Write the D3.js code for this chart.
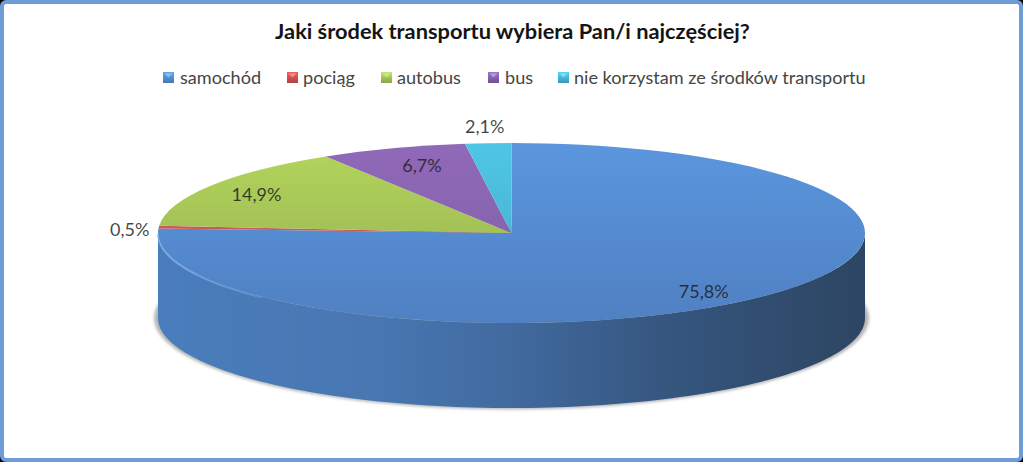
<!DOCTYPE html>
<html lang="pl">
<head>
<meta charset="utf-8">
<script src="https://cdn.jsdelivr.net/npm/d3@7"></script>
<style>
html,body{margin:0;padding:0;background:#000}
svg{display:block}
text{font-family:Lato,"Open Sans",sans-serif}
</style>
</head>
<body>
<script>
const titleText = "Jaki środek transportu wybiera Pan/i najczęściej?";
const categories = ["samochód", "pociąg", "autobus", "bus", "nie korzystam ze środków transportu"];
const values = [75.8, 0.5, 14.9, 6.7, 2.1];
const valueLabels = ["75,8%", "0,5%", "14,9%", "6,7%", "2,1%"];

const topLight = ["#5b96de", "#d9605c", "#b3d65c", "#9069b8", "#4fc6e6"];
const topDark  = ["#4f80c2", "#c0504d", "#93ad4f", "#7f5fa6", "#43a9c4"];
const legendMid = ["#4f8ed0", "#cf4f4f", "#a3c355", "#8261ad", "#45b5d3"];

const W = 1023, H = 462;
const cx = 511.5, cy = 233, rx = 353.5, ry = 90, depth = 85;

const svg = d3.select("body").append("svg").attr("width", W).attr("height", H);
const defs = svg.append("defs");

// Frame
svg.append("rect").attr("x", 2).attr("y", 2).attr("width", W - 4).attr("height", H - 4)
  .attr("rx", 4).attr("fill", "#fff").attr("stroke", "#6f9bd8").attr("stroke-width", 4);

// Gradients
categories.forEach((c, i) => {
  const g = defs.append("linearGradient").attr("id", "top" + i)
    .attr("gradientUnits", "userSpaceOnUse")
    .attr("x1", 0).attr("x2", 0).attr("y1", -rx).attr("y2", rx);
  g.append("stop").attr("offset", 0).attr("stop-color", topLight[i]);
  g.append("stop").attr("offset", 1).attr("stop-color", topDark[i]);
  const m = defs.append("linearGradient").attr("id", "leg" + i)
    .attr("x1", 0).attr("x2", 0).attr("y1", 0).attr("y2", 1);
  m.append("stop").attr("offset", 0).attr("stop-color", d3.color(legendMid[i]).brighter(0.5));
  m.append("stop").attr("offset", 1).attr("stop-color", d3.color(legendMid[i]).darker(0.5));
});
const wg = defs.append("linearGradient").attr("id", "wall")
  .attr("gradientUnits", "userSpaceOnUse")
  .attr("x1", cx - rx).attr("x2", cx + rx).attr("y1", 0).attr("y2", 0);
[[0, "#4a7dbc"], [0.3, "#4877b2"], [0.5, "#416a9f"], [0.72, "#36567f"], [1, "#2c4562"]]
  .forEach(([o, c]) => wg.append("stop").attr("offset", o).attr("stop-color", c));
const rg = defs.append("linearGradient").attr("id", "rim")
  .attr("gradientUnits", "userSpaceOnUse")
  .attr("x1", cx - rx).attr("x2", cx - 170).attr("y1", 0).attr("y2", 0);
rg.append("stop").attr("offset", 0).attr("stop-color", "#7eb0ee").attr("stop-opacity", 0.9);
rg.append("stop").attr("offset", 1).attr("stop-color", "#7eb0ee").attr("stop-opacity", 0);
defs.append("filter").attr("id", "blur").attr("x", "-5%").attr("y", "-5%").attr("width", "110%").attr("height", "110%")
  .append("feGaussianBlur").attr("stdDeviation", 1.6);

// Title
svg.append("text").attr("x", 512.5).attr("y", 38.5).attr("text-anchor", "middle")
  .attr("font-size", 21.8).attr("font-weight", 700).attr("fill", "#141414").text(titleText);

// Legend
const legendX = [163, 287, 381, 488, 558];
const legendTextGap = [17, 16, 16, 17, 16];
const legend = svg.append("g").selectAll("g").data(categories).join("g")
  .attr("transform", (d, i) => `translate(${legendX[i]},72)`);
legend.append("rect").attr("width", 11).attr("height", 11)
  .attr("fill", (d, i) => `url(#leg${i})`);
legend.append("path").attr("d", "M1.5,1.5H9.5L5.5,5.5Z").attr("fill", "#fff").attr("opacity", 0.35);
legend.append("text").attr("x", (d, i) => legendTextGap[i]).attr("y", 11.5)
  .attr("font-size", 18.1).attr("fill", "#454545").text(d => d);

// Pie
const pie = d3.pie().sort(null).value(d => d)
  .startAngle(0).endAngle(2 * Math.PI);
const arcs = pie(values);
const px = a => cx + rx * Math.sin(a);
const py = (a, dz = 0) => cy - ry * Math.cos(a) + dz;

// Shadow below the cylinder
svg.append("ellipse").attr("cx", cx).attr("cy", cy + depth)
  .attr("rx", rx + 4).attr("ry", ry + 1.5)
  .attr("fill", "#b5b5b5").attr("filter", "url(#blur)");

// Side wall (front half only)
const frontStart = Math.PI / 2, frontEnd = 3 * Math.PI / 2;
const wallArea = d3.area().x(a => px(a)).y0(a => py(a)).y1(a => py(a, depth));
arcs.forEach((d, i) => {
  const a0 = Math.max(d.startAngle, frontStart), a1 = Math.min(d.endAngle, frontEnd);
  if (a1 <= a0) return;
  const n = 120;
  const as = d3.range(n + 1).map(k => a0 + (a1 - a0) * k / n);
  svg.append("path").attr("d", wallArea(as)).attr("fill", "url(#wall)");
});

// Top face
const arcGen = d3.arc().innerRadius(0).outerRadius(rx);
const topFace = svg.append("g").attr("transform", `translate(${cx},${cy}) scale(1,${ry / rx})`);
topFace.selectAll("path").data(arcs).join("path")
  .attr("d", arcGen).attr("fill", (d, i) => `url(#top${i})`);

// Rim highlight on the front-left edge of the top face
const rimLine = d3.line().x(a => px(a)).y(a => py(a) + 1);
svg.append("path")
  .attr("d", rimLine(d3.range(0, 61).map(k => Math.PI * 1.5 - k * Math.PI / 180 * 0.75)))
  .attr("fill", "none").attr("stroke", "url(#rim)").attr("stroke-width", 1.5);

// Value labels
const labelDx = [12, 1, -38, -4, 0];
const labelDy = [11, 3, -4, -6, -3];
const labelRadius = [0.74, 1.085, 0.72, 0.72, 1.15];
svg.append("g").selectAll("text").data(arcs).join("text")
  .attr("x", (d, i) => {
    const m = (d.startAngle + d.endAngle) / 2;
    return cx + rx * labelRadius[i] * Math.sin(m) + labelDx[i];
  })
  .attr("y", (d, i) => {
    const m = (d.startAngle + d.endAngle) / 2;
    return cy - ry * labelRadius[i] * Math.cos(m) + labelDy[i] + 6;
  })
  .attr("text-anchor", "middle").attr("font-size", 18).attr("fill", "#1f1f1f")
  .attr("fill-opacity", 0.85)
  .text((d, i) => valueLabels[i]);
</script>
</body>
</html>
